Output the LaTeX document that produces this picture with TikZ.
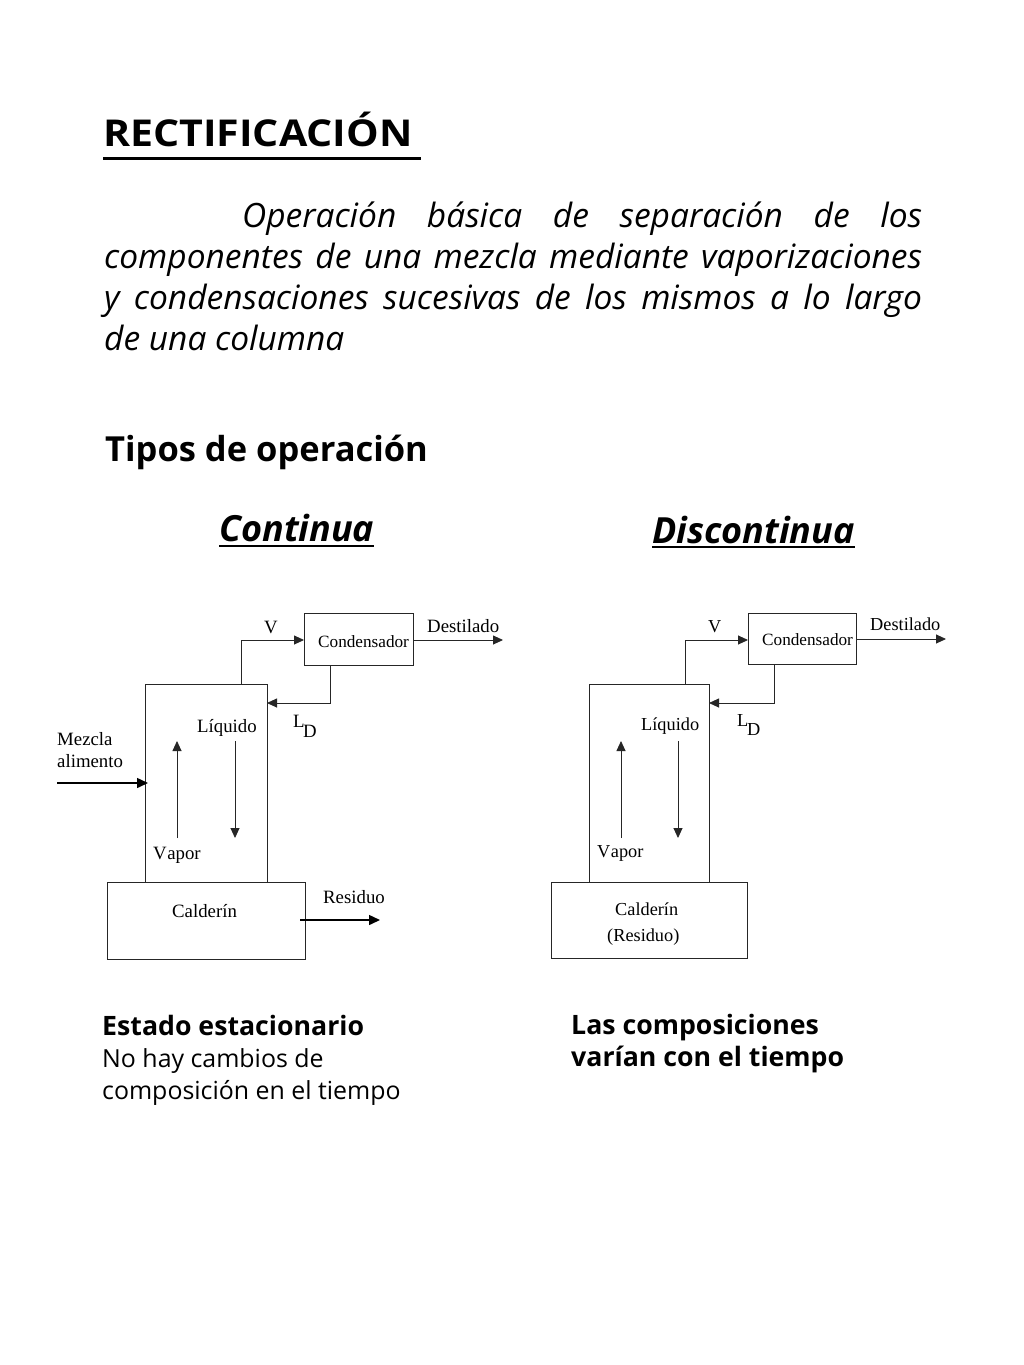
\documentclass[tikz,border=0pt]{standalone}
\usepackage{fontspec}
\setmainfont{Liberation Serif}
\newfontfamily\hfont{Open Sans}
\newfontfamily\wfont[FakeStretch=1.11]{Open Sans}
\usetikzlibrary{arrows.meta}
\tikzset{
  x=1pt,y=-1pt,
  lbl/.style={font=\fontsize{18.8}{22}\selectfont,inner sep=0pt,anchor=base west},
  lblr/.style={font=\fontsize{18.3}{22}\selectfont,inner sep=0pt,anchor=base west},
  cond/.style={font=\fontsize{17.2}{20}\selectfont,inner sep=0pt,anchor=base west},
  conn/.style={draw=black!85,line width=0.9pt},
  arr/.style={conn,-{Triangle[length=10pt,width=9pt]}},
  thick arr/.style={draw=black,line width=1.5pt,-{Triangle[length=11pt,width=10pt]}},
  ttl/.style={font=\wfont\bfseries\fontsize{37}{42}\selectfont,inner sep=0pt,anchor=base west},
  ttlb/.style={font=\hfont\bfseries\fontsize{34.5}{40}\selectfont,inner sep=0pt,anchor=base west},
  sub/.style={font=\hfont\bfseries\itshape\fontsize{36}{42}\selectfont,inner sep=0pt,anchor=base west},
  body/.style={font=\hfont\itshape\fontsize{33.5}{41}\selectfont,inner sep=0pt,anchor=north west,text width=818pt,align=justify},
  txt/.style={font=\hfont\fontsize{24.9}{32}\selectfont,inner sep=0pt,anchor=base west},
  btxt/.style={font=\hfont\bfseries\fontsize{26.7}{32}\selectfont,inner sep=0pt,anchor=base west},
}
\begin{document}
\begin{tikzpicture}
\useasboundingbox (0,0) rectangle (1024,1365);
\fill[white] (0,0) rectangle (1024,1365);
\node[ttl] (t1) at (103,146) {RECTIFICACIÓN};
\coordinate (u1a) at (103,158); \coordinate (u1b) at (421,158);
\draw[line width=3pt] (u1a) -- (u1b);
\node[body] (b) at (104,202) {\hyphenpenalty=10000 \tolerance=10000 \hspace*{138pt}Operación básica de separación de los\linebreak componentes de una mezcla mediante vaporizaciones\linebreak y condensaciones sucesivas de los mismos a lo largo\linebreak de una columna};
\node[ttlb] (t2) at (105,461) {Tipos de operación};
\node[sub] (c) at (219,541) {Continua};
\coordinate (c1) at (219,546); \coordinate (c2) at (374,546);
\draw[line width=2.5pt] (c1) -- (c2);
\node[sub] (d) at (652,543) {Discontinua};
\coordinate (d1) at (652,547); \coordinate (d2) at (855,547);
\draw[line width=2.5pt] (d1) -- (d2);
% left
\draw[conn] (145,684) rectangle (267,882);
\draw[conn] (107,882) rectangle (305,959);
\draw[conn] (304,613) rectangle (413,665);
\coordinate (a1) at (241,684); \coordinate (a2) at (241,640); \coordinate (a3) at (304,640);
\draw[arr] (a1) -- (a2) -- (a3);
\coordinate (a4) at (330,665); \coordinate (a5) at (330,703); \coordinate (a6) at (267,703);
\draw[arr] (a4) -- (a5) -- (a6);
\coordinate (a7) at (413,640); \coordinate (a8) at (503,640);
\draw[arr] (a7) -- (a8);
\coordinate (a9) at (57,783); \coordinate (a10) at (148,783);
\draw[thick arr] (a9) -- (a10);
\coordinate (a11) at (177,838); \coordinate (a12) at (177,741);
\draw[arr] (a11) -- (a12);
\coordinate (a13) at (235,741); \coordinate (a14) at (235,838);
\draw[arr] (a13) -- (a14);
\coordinate (a15) at (300,920); \coordinate (a16) at (380,920);
\draw[thick arr] (a15) -- (a16);
\node[lbl] (n1) at (264,633) {V};
\node[cond] (n2) at (318,647) {Condensador};
\node[lbl] (n3) at (427,632) {Destilado};
\node[lbl] (n4) at (197,732) {Líquido};
\node[lbl] (n5) at (293,727) {L};
\node[lbl] (n6) at (303,737) {D};
\node[lbl] (n7) at (57,745) {Mezcla};
\node[lbl] (n8) at (57,767) {alimento};
\node[lbl] (n9) at (153,859) {V\kern0.5pt apor};
\node[lbl] (n10) at (172,917) {Calderín};
\node[lbl] (n11) at (323,903) {Residuo};
% right
\draw[conn] (589,684) rectangle (709,882);
\draw[conn] (551,882) rectangle (747,958);
\draw[conn] (748,613) rectangle (856,664);
\coordinate (b1) at (685,684); \coordinate (b2) at (685,640); \coordinate (b3) at (748,640);
\draw[arr] (b1) -- (b2) -- (b3);
\coordinate (b4) at (774,664); \coordinate (b5) at (774,703); \coordinate (b6) at (709,703);
\draw[arr] (b4) -- (b5) -- (b6);
\coordinate (b7) at (856,639); \coordinate (b8) at (946,639);
\draw[arr] (b7) -- (b8);
\coordinate (b11) at (621,838); \coordinate (b12) at (621,741);
\draw[arr] (b11) -- (b12);
\coordinate (b13) at (678,741); \coordinate (b14) at (678,838);
\draw[arr] (b13) -- (b14);
\node[lblr] (m1) at (708,632) {V};
\node[cond] (m2) at (762,645) {Condensador};
\node[lblr] (m3) at (870,630) {Destilado};
\node[lblr] (m4) at (641,730) {Líquido};
\node[lblr] (m5) at (737,726) {L};
\node[lblr] (m6) at (747,735) {D};
\node[lblr] (m9) at (597,857) {V\kern0.5pt apor};
\node[lblr] (m10) at (615,915) {Calderín};
\node[lblr] (m11) at (607,941) {(Residuo)};
% bottom
\node[btxt] (e1) at (102,1035) {Estado estacionario};
\node[txt] (e2) at (102,1067) {No hay cambios de};
\node[txt] (e3) at (102,1099) {composición en el tiempo};
\node[btxt] (f1) at (571,1034) {Las composiciones};
\node[btxt] (f2) at (571,1066) {varían con el tiempo};
\end{tikzpicture}
\end{document}
